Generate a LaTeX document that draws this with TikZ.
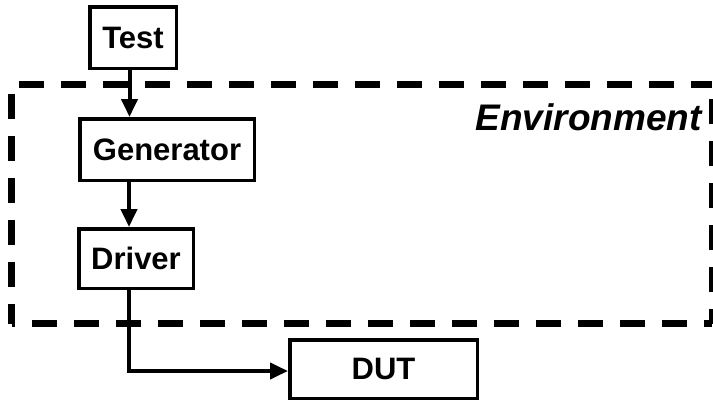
\documentclass[tikz,border=0pt]{standalone}
\usepackage{fontspec}
\setmainfont{Liberation Sans}
\usetikzlibrary{arrows.meta}

\begin{document}
\begin{tikzpicture}[x=1pt, y=-1pt,
    caja/.style={draw, line width=3.5pt, inner sep=0pt,
      font=\fontsize{31}{37}\selectfont\bfseries},
    borde/.style={line width=6.5pt, dash pattern=on 25pt off 17pt},
    flecha/.style={line width=4pt, -{Triangle[length=18pt,width=16pt]}}]

  \useasboundingbox (0,0) rectangle (713,402);

  % Recuadro discontinuo del entorno (cada lado con su fase)
  \node[inner sep=0pt, outer sep=0pt,
        minimum width=700.5pt, minimum height=239pt] (env) at (361.75,204) {};
  \draw[borde, dash phase=34.5pt] (env.north west) -- (env.north east);
  \draw[borde, dash phase=32.5pt] (env.north west) -- (env.south west);
  \draw[borde, dash phase=17pt]   (env.south east) -- (env.south west);
  \draw[borde, dash phase=10pt]   (env.south east) -- (env.north east);
  \node[anchor=base east, inner sep=0pt,
        font=\fontsize{37}{44}\selectfont\bfseries\itshape] (envlbl) at (702,130) {Environment};

  % Bloques
  \node[caja, minimum width=86.5pt,  minimum height=61.5pt] (test) at (133,37.5)  {Test};
  \node[caja, minimum width=174.5pt, minimum height=61.5pt] (gen)  at (167,149.5) {Generator};
  \node[caja, minimum width=114.5pt, minimum height=59.5pt] (drv)  at (136,258.5) {Driver};
  \node[caja, minimum width=187.5pt, minimum height=58.5pt] (dut)  at (383.5,369) {DUT};

  % Conexiones
  \draw[flecha] ([xshift=-3.5pt]test.south) -- ([xshift=-3.5pt]test.south |- gen.north);
  \draw[flecha] ([xshift=-7pt]drv.north |- gen.south) -- ([xshift=-7pt]drv.north);
  \draw[flecha] ([xshift=-7pt]drv.south) |- ([yshift=-2pt]dut.west);

\end{tikzpicture}
\end{document}
